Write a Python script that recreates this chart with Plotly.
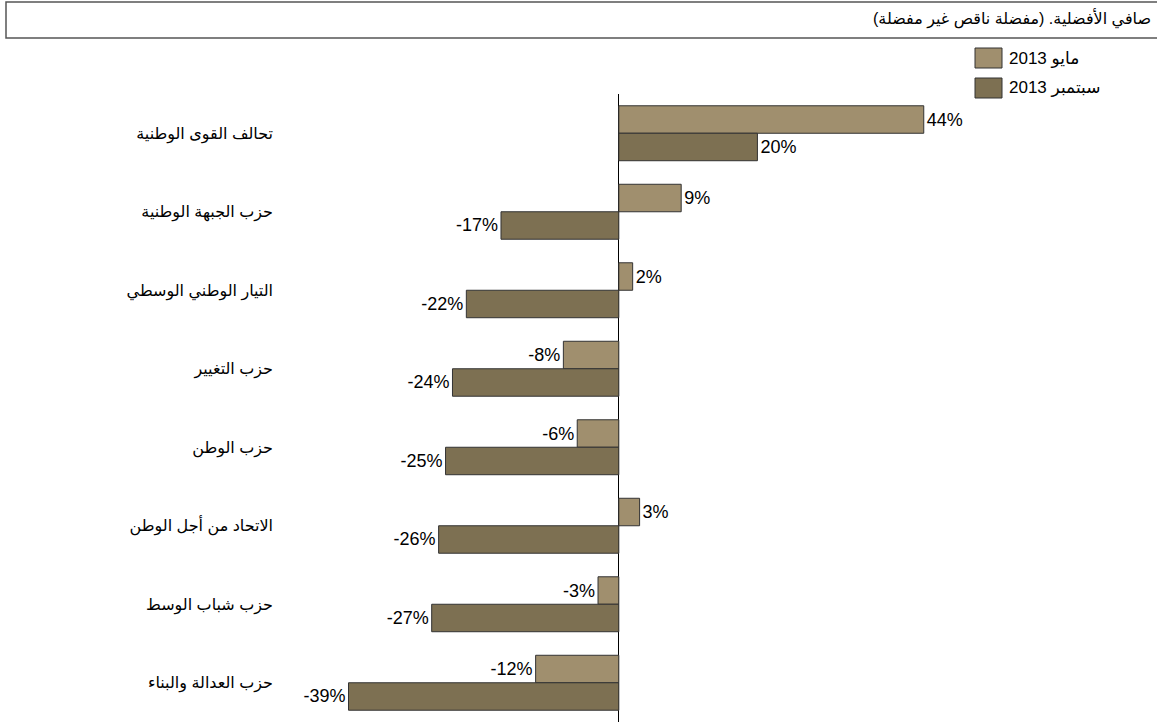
import plotly.graph_objects as go

# Data
parties = [
    "تحالف القوى الوطنية",
    "حزب الجبهة الوطنية",
    "التيار الوطني الوسطي",
    "حزب التغيير",
    "حزب الوطن",
    "الاتحاد من أجل الوطن",
    "حزب شباب الوسط",
    "حزب العدالة والبناء",
]
may_2013 = [44, 9, 2, -8, -6, 3, -3, -12]
sep_2013 = [20, -17, -22, -24, -25, -26, -27, -39]
series_names = ["مايو 2013", "سبتمبر 2013"]
title_text = "صافي الأفضلية. (مفضلة ناقص غير مفضلة)"

colors = ["#A08F6E", "#7D7052"]
outline = "#333333"
font_family = "Arial, Liberation Sans, DejaVu Sans, sans-serif"

W, H = 1157, 722


# pixel -> paper helpers
def px(x):
    return x / W


def py(y):
    return 1 - y / H


fig = go.Figure()

for name, vals, col in zip(series_names, [may_2013, sep_2013], colors):
    fig.add_trace(go.Bar(
        y=parties,
        x=vals,
        orientation="h",
        name=name,
        marker=dict(color=col, line=dict(color=outline, width=1)),
        text=[f"{v}%" for v in vals],
        textposition="outside",
        textfont=dict(size=18, color="black", family=font_family),
        constraintext="none",
        cliponaxis=False,
        showlegend=False,
    ))

# Title box and text
shapes = [dict(type="rect", xref="paper", yref="paper",
               x0=px(6), x1=px(1165), y0=py(38), y1=py(2),
               line=dict(color="#555555", width=1.5))]
annotations = [dict(text=title_text + "\u200F", xref="paper", yref="paper",
                    x=px(1153), y=py(19), xanchor="right", yanchor="middle",
                    showarrow=False, font=dict(size=16, color="black", family=font_family))]

# Hand-drawn legend (boxes on the left of the labels)
legend_rows = [58, 88]
for name, col, yc in zip(series_names, colors, legend_rows):
    shapes.append(dict(type="rect", xref="paper", yref="paper",
                       x0=px(975), x1=px(1002), y0=py(yc + 10), y1=py(yc - 10),
                       fillcolor=col, line=dict(color=outline, width=1)))
    annotations.append(dict(text=name, xref="paper", yref="paper",
                            x=px(1007), y=py(yc), xanchor="left", yanchor="middle",
                            showarrow=False,
                            font=dict(size=17, color="black", family=font_family)))

fig.update_layout(
    width=W,
    height=H,
    margin=dict(l=0, r=0, t=0, b=0),
    plot_bgcolor="white",
    paper_bgcolor="white",
    barmode="group",
    bargap=0.3,
    bargroupgap=0,
    shapes=shapes,
    annotations=annotations,
    xaxis=dict(domain=[px(300), px(1000)], range=[-46, 55],
               showgrid=False, showticklabels=False, ticks="",
               zeroline=True, zerolinecolor="black", zerolinewidth=1),
    yaxis=dict(domain=[0, py(94)], autorange="reversed",
               showgrid=False, ticks="", ticklabelstandoff=26,
               tickfont=dict(size=16, color="black", family=font_family)),
)

# drop the default body margin so the figure sits at the window's corner
fig.write_html("out.html", config={"displayModeBar": False},
               post_script="document.body.style.margin='0';")
